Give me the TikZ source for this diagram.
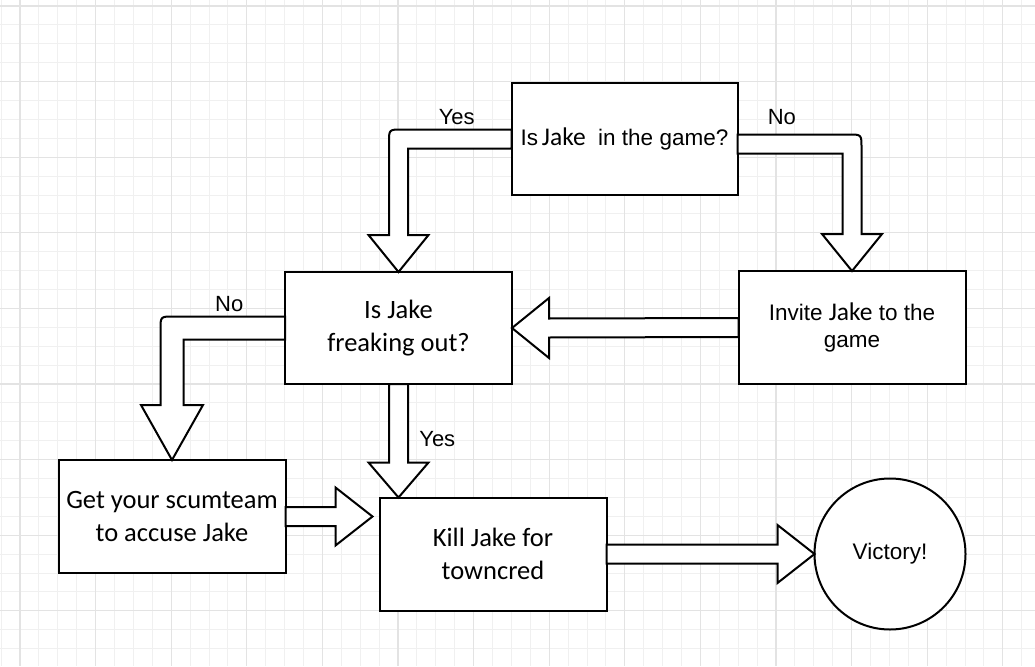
\documentclass[tikz,border=0pt]{standalone}
\usepackage{fontspec}
\setmainfont{Liberation Sans}
\newfontfamily\calfont{Carlito}
\usetikzlibrary{calc}
\colorlet{gridminor}{black!6}
\colorlet{gridmajor}{black!11}
\newcommand{\shaftw}{9.5}
\newcommand{\headw}{30}
\newcommand{\headl}{37}
\newcommand{\jakefont}{\calfont\fontsize{25.5}{28}\selectfont}

\begin{document}
\begin{tikzpicture}[x=1pt,y=-1pt,
    box/.style={draw,line width=2,fill=white,minimum width=227,minimum height=112,inner sep=0,outer sep=0,align=center},
    arial/.style={font=\fontsize{22.5}{27}\selectfont},
    cal/.style={font=\calfont\fontsize{26.5}{32.5}\selectfont},
    fat/.style={draw,line width=2,fill=white,line join=miter},
    lbl/.style={font=\fontsize{22}{25}\selectfont}]

    \fill[white] (0,0) rectangle (1035,666);
    \useasboundingbox (0,0) rectangle (1035,666);
    % grid
    \foreach \i in {-1,...,54} \draw[gridminor,line width=1] ({20+18.9*\i},0) -- ++(0,666);
    \foreach \i in {-1,...,35} \draw[gridminor,line width=1] (0,{6+18.9*\i}) -- ++(1035,0);
    \foreach \i in {0,...,13} \draw[gridmajor,line width=1.3] ({20+75.6*\i},0) -- ++(0,666);
    \foreach \i in {0,...,8} \draw[gridmajor,line width=1.3] (0,{6+75.6*\i}) -- ++(1035,0);

    \node[box,arial,minimum width=226] (game) at (624.5,139) {Is\,{\jakefont Jake}\ \ in the game?};
    \node[box,cal] (freak) at (398.5,328) {Is Jake\\freaking out?};
    \node[box,arial,minimum height=113] (invite) at (852,327.5) {Invite {\jakefont Jake} to the\\game};
    \node[box,cal,minimum height=113] (scum) at (172,516.5) {Get your scumteam\\to accuse Jake};
    \node[box,cal,minimum height=113] (kill) at (493,554) {Kill Jake for\\towncred};
    \node[circle,draw,line width=2,fill=white,minimum size=151,inner sep=0,outer sep=0,arial] (win) at (890,554) {Victory!};

    % yes / no out of the first question
    \coordinate (yk) at (freak.north |- game.west);
    \draw[fat] ($(game.west)+(0,-\shaftw)$) -- ($(yk)+(-\shaftw+13,-\shaftw)$) node[lbl,above,midway] {Yes}
        .. controls ($(yk)+(-\shaftw,-\shaftw)$) .. ($(yk)+(-\shaftw,-\shaftw+13)$)
        -- ($(freak.north)+(-\shaftw,-\headl)$) -- ($(freak.north)+(-\headw,-\headl)$) -- (freak.north)
        -- ($(freak.north)+(\headw,-\headl)$) -- ($(freak.north)+(\shaftw,-\headl)$)
        -- ($(yk)+(\shaftw,\shaftw)$) -- ($(game.west)+(0,\shaftw)$) -- cycle;

    \coordinate (nk) at ($(invite.north |- game.east)+(0,5)$);
    \draw[fat] ($(game.east)+(0,5-\shaftw)$) -- ($(nk)+(\shaftw-13,-\shaftw)$) node[lbl,above=5pt,pos=0.4] {No}
        .. controls ($(nk)+(\shaftw,-\shaftw)$) .. ($(nk)+(\shaftw,-\shaftw+13)$)
        -- ($(invite.north)+(\shaftw,-\headl)$) -- ($(invite.north)+(\headw,-\headl)$) -- (invite.north)
        -- ($(invite.north)+(-\headw,-\headl)$) -- ($(invite.north)+(-\shaftw,-\headl)$)
        -- ($(nk)+(-\shaftw,\shaftw)$) -- ($(game.east)+(0,5+\shaftw)$) -- cycle;

    \draw[fat] ($(invite.west)+(0,-\shaftw)$) -- ($(freak.east)+(\headl,-\shaftw)$) -- ($(freak.east)+(\headl,-\headw)$)
        -- (freak.east) -- ($(freak.east)+(\headl,\headw)$) -- ($(freak.east)+(\headl,\shaftw)$)
        -- ($(invite.west)+(0,\shaftw)$) -- cycle;

    % yes / no out of the second question
    \coordinate (fk) at (scum.north |- freak.west);
    \draw[fat] ($(freak.west)+(0,-11.5)$) -- ($(fk)+(-11.5+13,-11.5)$) node[lbl,above,midway] {No}
        .. controls ($(fk)+(-11.5,-11.5)$) .. ($(fk)+(-11.5,-11.5+13)$)
        -- ($(scum.north)+(-11.5,-55)$) -- ($(scum.north)+(-31,-55)$) -- (scum.north)
        -- ($(scum.north)+(31,-55)$) -- ($(scum.north)+(11.5,-55)$)
        -- ($(fk)+(11.5,11.5)$) -- ($(freak.west)+(0,11.5)$) -- cycle;

    \coordinate (kt) at (freak.south |- kill.north);
    \draw[fat] ($(freak.south)+(-\shaftw,0)$) -- ($(kt)+(-\shaftw,-35)$) -- ($(kt)+(-\headw,-35)$) -- (kt)
        -- ($(kt)+(\headw,-35)$) -- ($(kt)+(\shaftw,-35)$)
        -- ($(freak.south)+(\shaftw,0)$) node[lbl,right=7pt,pos=0.3] {Yes} -- cycle;

    % towards the end
    \coordinate (st) at ($(scum.east -| kill.west)+(-7,0)$);
    \draw[fat] ($(scum.east)+(0,-\shaftw)$) -- ($(st)+(-\headl,-\shaftw)$) -- ($(st)+(-\headl,-29)$) -- (st)
        -- ($(st)+(-\headl,29)$) -- ($(st)+(-\headl,\shaftw)$) -- ($(scum.east)+(0,\shaftw)$) -- cycle;

    \draw[fat] ($(kill.east)+(0,-\shaftw)$) -- ($(win.west)+(-\headl,-\shaftw)$) -- ($(win.west)+(-\headl,-29)$) -- (win.west)
        -- ($(win.west)+(-\headl,29)$) -- ($(win.west)+(-\headl,\shaftw)$) -- ($(kill.east)+(0,\shaftw)$) -- cycle;

\end{tikzpicture}
\end{document}
